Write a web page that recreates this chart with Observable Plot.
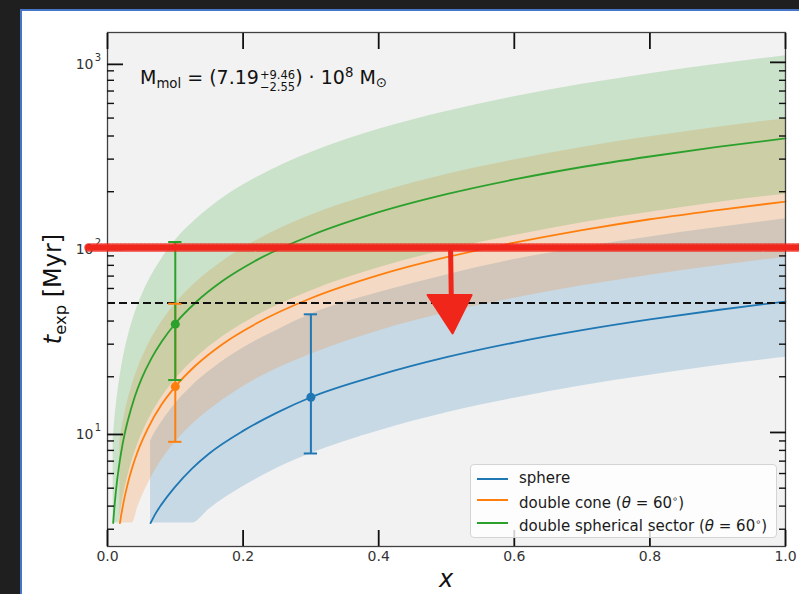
<!DOCTYPE html>
<html><head><meta charset="utf-8">
<script src="https://cdn.jsdelivr.net/npm/d3@7"></script>
<script src="https://cdn.jsdelivr.net/npm/@observablehq/plot@0.6"></script>
<style>
html,body{margin:0;padding:0;background:#1f1f1f;width:799px;height:594px;overflow:hidden;position:relative;font-family:"DejaVu Sans",sans-serif;}
#panel{position:absolute;left:20px;top:9px;width:779px;height:585px;background:#fff;border-left:2px solid #4576c8;border-top:2px solid #4576c8;box-sizing:border-box;}
#chart{position:absolute;left:0;top:0;}
.ov{position:absolute;font-family:"DejaVu Sans",sans-serif;color:#111;white-space:nowrap;}
#legend{position:absolute;left:470px;top:464px;width:307px;height:74px;background:rgba(255,255,255,0.8);border:1px solid #d4d4d4;border-radius:4px;box-sizing:border-box;}
.lrow{position:absolute;left:0;height:20px;font-size:15px;color:#1a1a1a;}
.lsw{position:absolute;left:6px;top:10px;width:31px;height:2px;}
.ltx{position:absolute;left:48px;top:0;line-height:20px;}
.stk{display:inline-block;vertical-align:-7px;font-size:11.5px;line-height:12.5px;text-align:left;margin-left:1px;}
.stk span{display:block;}
</style></head>
<body>
<div id="panel"></div>
<div id="chart"></div>
<script>
// ---- axis ticks ----
const xTicks = [0, 0.2, 0.4, 0.6, 0.8, 1.0];
const xTickLabels = ["0.0", "0.2", "0.4", "0.6", "0.8", "1.0"];
const yMajor = [10, 100, 1000];
const yMajorBase = ["10", "10", "10"];
const yMajorExp = ["1", "2", "3"];
const yMinor = [3,4,5,6,7,8,9,20,30,40,50,60,70,80,90,200,300,400,500,600,700,800,900];

// ---- series ----
const seriesNames = ["sphere", "double cone", "double spherical sector"];
const seriesColors = ["#1f77b4", "#ff7f0e", "#2ca02c"];

// sphere
const sphereX  = [0.0635, 0.07, 0.08, 0.1, 0.125, 0.15, 0.2, 0.25, 0.3, 0.4, 0.5, 0.6, 0.7, 0.8, 0.9, 1.0];
const sphereT  = [3.24, 3.6, 4.1, 5.1, 6.4, 7.7, 10.2, 12.8, 15.5, 20.4, 25.5, 30.6, 35.7, 40.8, 45.9, 51];
const sphereLo = [3.24, 3.24, 3.24, 3.24, 3.24, 3.85, 5.1, 6.4, 7.7, 10.2, 12.8, 15.3, 17.9, 20.4, 23, 25.5];
const sphereHi = [9.0, 10.0, 11.4, 14.3, 17.9, 21.4, 28.6, 35.7, 43.5, 57, 71, 86, 100, 114, 128, 143];

// double cone
const coneX  = [0.0183, 0.02, 0.025, 0.03, 0.0366, 0.045, 0.06, 0.08, 0.1, 0.13, 0.17, 0.22, 0.3, 0.4, 0.5, 0.6, 0.7, 0.8, 0.9, 1.0];
const coneT  = [3.24, 3.54, 4.43, 5.31, 6.48, 7.97, 10.6, 14.2, 17.7, 23.0, 30.1, 38.9, 53.1, 70.8, 88.5, 106, 124, 142, 159, 177];
const coneLo = [3.24, 3.24, 3.24, 3.24, 3.24, 3.98, 5.3, 7.1, 8.85, 11.5, 15.0, 19.5, 26.5, 35.4, 44.3, 53.1, 62, 70.8, 79.7, 88.5];
const coneHi = [9.07, 9.91, 12.4, 14.9, 18.1, 22.3, 29.7, 39.6, 49.6, 64.4, 84.3, 109, 149, 198, 248, 297, 347, 396, 446, 496];

// double spherical sector
const sectX  = [0.00835, 0.01, 0.0125, 0.0167, 0.02, 0.025, 0.03, 0.04, 0.05, 0.065, 0.08, 0.1, 0.13, 0.17, 0.22, 0.3, 0.4, 0.5, 0.6, 0.7, 0.8, 0.9, 1.0];
const sectT  = [3.24, 3.88, 4.85, 6.48, 7.76, 9.7, 11.6, 15.5, 19.4, 25.2, 31.0, 38.8, 50.4, 66.0, 85.4, 116, 155, 194, 233, 272, 310, 349, 388];
const sectLo = [3.24, 3.24, 3.24, 3.24, 3.88, 4.85, 5.82, 7.76, 9.7, 12.6, 15.5, 19.4, 25.2, 33, 42.7, 58.2, 77.6, 97, 116, 136, 155, 175, 194];
const sectHi = [9.07, 10.9, 13.6, 18.1, 21.7, 27.2, 32.6, 43.5, 54.3, 70.6, 86.9, 109, 141, 185, 239, 326, 435, 543, 652, 761, 869, 978, 1086];

// error bars (x, value, low, high)
const errX  = [0.3, 0.1, 0.1];
const errT  = [15.5, 17.7, 38.5];
const errLo = [7.7, 8.9, 19.2];
const errHi = [43.5, 49.6, 107];

// reference levels
const dashedLevel = 50;
const redLevel = 100;
const redLineX = [-0.028, 1.03];
const arrowX = [0.506, 0.507];
const arrowT = [100, 55.5];
const headX = [0.472, 0.537, 0.509, 0.472];
const headT = [55.3, 55.3, 34.3, 55.3];

// ---- build tables ----
function rows(xs, ts, lo, hi, i) {
  return xs.map((x, k) => ({x, t: ts[k], lo: lo[k], hi: hi[k], s: i}));
}
const bands = [
  rows(sphereX, sphereT, sphereLo, sphereHi, 0),
  rows(coneX, coneT, coneLo, coneHi, 1),
  rows(sectX, sectT, sectLo, sectHi, 2)
];
const errs = errX.map((x, k) => ({x, t: errT[k], lo: errLo[k], hi: errHi[k], c: seriesColors[k]}));
const caps = errs.flatMap(d => [{x: d.x, v: d.lo, c: d.c}, {x: d.x, v: d.hi, c: d.c}]);
const capW = 0.0098;
const red = "#f0261b";
const xLabelMap = new Map(xTicks.map((v, i) => [v, xTickLabels[i]]));
const yBaseMap = new Map(yMajor.map((v, i) => [v, yMajorBase[i]]));
const yExpMap = new Map(yMajor.map((v, i) => [v, yMajorExp[i]]));

const marks = [
  Plot.frame({fill: "#f2f2f2", stroke: null}),
  ...bands.map((b, i) => Plot.areaY(b, {x: "x", y1: "lo", y2: "hi", fill: seriesColors[i], fillOpacity: 0.2, curve: "monotone-x"})),
  ...bands.map((b, i) => Plot.line(b, {x: "x", y: "t", stroke: seriesColors[i], strokeWidth: 1.8, curve: "monotone-x"})),
  Plot.ruleY([dashedLevel], {stroke: "#111", strokeWidth: 2, strokeDasharray: "8,4"}),
  ...errs.map(d => Plot.ruleX([d], {x: "x", y1: "lo", y2: "hi", stroke: d.c, strokeWidth: 2})),
  ...caps.map(d => Plot.ruleY([d], {y: "v", x1: e => e.x - capW, x2: e => e.x + capW, stroke: d.c, strokeWidth: 2})),
  ...errs.map(d => Plot.dot([d], {x: "x", y: "t", r: 4.5, fill: d.c, stroke: null})),
  Plot.frame({stroke: "#404040", strokeWidth: 1.3}),
  // axes (ticks pointing inward)
  Plot.axisX(xTicks, {anchor: "bottom", tickSize: -16, tickPadding: 21, strokeWidth: 1.8, stroke: "#111", tickFormat: d => xLabelMap.get(d), fontSize: 14, fill: "#333", label: null}),
  Plot.axisX(xTicks, {anchor: "top", tickSize: -16, strokeWidth: 1.8, stroke: "#111", tickFormat: () => "", label: null}),
  Plot.axisY(yMajor, {anchor: "left", tickSize: -16, tickPadding: 30, strokeWidth: 1.8, stroke: "#111", tickFormat: d => yBaseMap.get(d), fontSize: 14, fill: "#333", dy: 2, label: null}),
  Plot.axisY(yMajor, {anchor: "left", tickSize: 0, tickPadding: 6.5, tickFormat: d => yExpMap.get(d), fontSize: 10, fill: "#333", dy: -5, label: null}),
  Plot.axisY(yMinor, {anchor: "left", tickSize: -7, strokeWidth: 1.4, stroke: "#111", tickFormat: () => "", label: null}),
  Plot.axisY(yMajor, {anchor: "right", tickSize: -16, strokeWidth: 1.8, stroke: "#111", tickFormat: () => "", label: null}),
  Plot.axisY(yMinor, {anchor: "right", tickSize: -7, strokeWidth: 1.4, stroke: "#111", tickFormat: () => "", label: null}),
  // red hand-drawn annotation
  Plot.line(redLineX.map(x => ({x, t: redLevel})), {x: "x", y: "t", stroke: red, strokeWidth: 5}),
  Plot.line(redLineX.map(x => ({x, t: redLevel})), {x: "x", y: "t", stroke: red, strokeWidth: 8.5, strokeDasharray: "1.5,2.5", strokeOpacity: 0.85}),
  Plot.line(arrowX.map((x, k) => ({x, t: arrowT[k]})), {x: "x", y: "t", stroke: red, strokeWidth: 5}),
  Plot.line(headX.map((x, k) => ({x, t: headT[k]})), {x: "x", y: "t", stroke: red, fill: red, strokeWidth: 2, strokeLinejoin: "round"})
];

const chart = Plot.plot({
  width: 799, height: 594,
  marginLeft: 107, marginRight: 14, marginTop: 32, marginBottom: 48,
  style: {background: "transparent", fontFamily: "DejaVu Sans", fontSize: "14px", overflow: "visible"},
  x: {domain: [0, 1]},
  y: {type: "log", domain: [2.42, 1450]},
  marks
});
document.getElementById("chart").appendChild(chart);

// ---- overlays: labels, annotation, legend ----
const body = document.body;
function add(html, css) { const d = document.createElement("div"); d.className = "ov"; d.innerHTML = html; Object.assign(d.style, css); body.appendChild(d); return d; }

// y label
add('<i>t</i><sub style="font-size:0.68em;vertical-align:-0.3em">exp</sub> [Myr]', {left: "-12px", top: "277px", width: "130px", height: "24px", lineHeight: "24px", fontSize: "24px", textAlign: "center", transform: "rotate(-90deg)", transformOrigin: "50% 50%"});
// x label
add('<i>x</i>', {left: "436px", top: "567px", fontSize: "24px", lineHeight: "24px", width: "20px", textAlign: "center"});
// annotation
add('M<sub style="font-size:0.7em;vertical-align:-0.25em">mol</sub> = (7.19<span class="stk"><span>+9.46</span><span>−2.55</span></span>) · 10<sup style="font-size:0.7em;vertical-align:0.55em">8</sup> M<sub style="font-size:0.7em;vertical-align:-0.2em">⊙</sub>', {left: "140px", top: "60px", fontSize: "19px", lineHeight: "25px"});

// legend
const leg = document.createElement("div"); leg.id = "legend"; body.appendChild(leg);
const legendLabels = ["sphere", 'double cone (<i>θ</i> = 60<sup style="font-size:0.65em;vertical-align:0.6em">∘</sup>)', 'double spherical sector (<i>θ</i> = 60<sup style="font-size:0.65em;vertical-align:0.6em">∘</sup>)'];
const legendRowTop = [3, 24, 47];
legendLabels.forEach((lab, i) => {
  const r = document.createElement("div"); r.className = "lrow"; r.style.top = legendRowTop[i] + "px"; r.style.width = "300px";
  r.innerHTML = `<div class="lsw" style="background:${seriesColors[i]}"></div><div class="ltx">${lab}</div>`;
  leg.appendChild(r);
});
</script>
</body></html>
